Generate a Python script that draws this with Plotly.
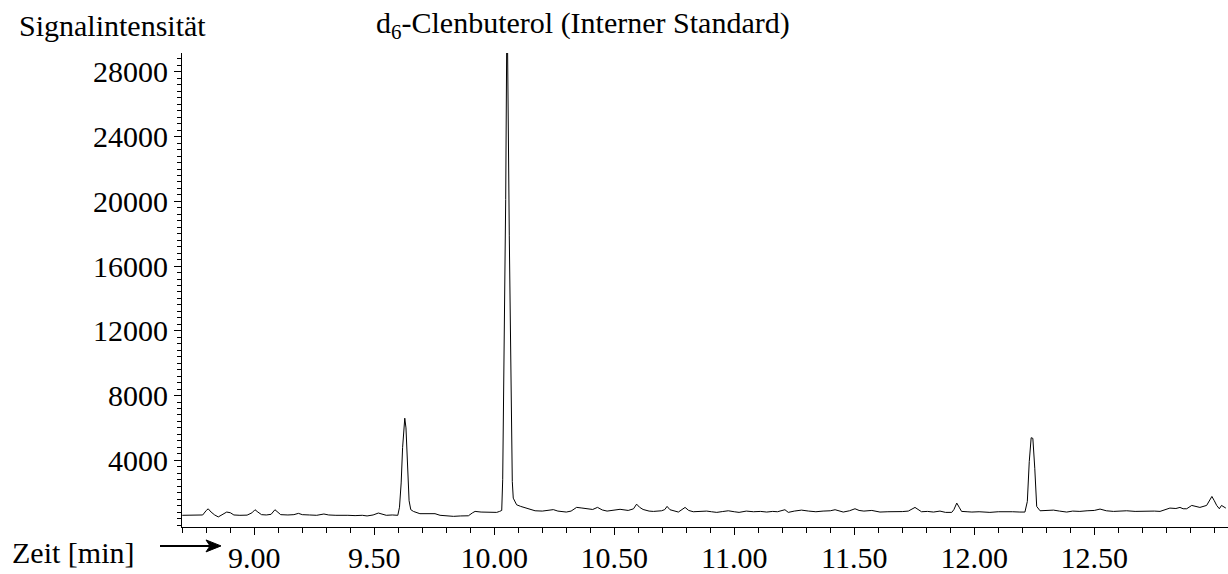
import plotly.graph_objects as go

# Retention time (min) and signal intensity
time_min = [
    8.700, 8.730, 8.760, 8.785, 8.800, 8.808, 8.820, 8.835, 8.850, 8.865,
    8.885, 8.900, 8.915, 8.940, 8.970, 8.990, 9.003, 9.015, 9.030, 9.050,
    9.070, 9.086, 9.100, 9.110, 9.140, 9.165, 9.184, 9.200, 9.230, 9.260,
    9.290, 9.310, 9.340, 9.370, 9.390, 9.420, 9.450, 9.470, 9.495, 9.517,
    9.535, 9.550, 9.575, 9.598, 9.605, 9.612, 9.618, 9.623, 9.627, 9.632,
    9.638, 9.645, 9.652, 9.663, 9.690, 9.720, 9.753, 9.774, 9.800, 9.830,
    9.860, 9.892, 9.910, 9.920, 9.945, 9.968, 9.990, 10.010, 10.022, 10.031,
    10.035, 10.0446, 10.0475, 10.0515, 10.0555, 10.0625, 10.075, 10.079, 10.093, 10.110,
    10.135, 10.150, 10.170, 10.200, 10.225, 10.246, 10.265, 10.300, 10.320, 10.343,
    10.365, 10.385, 10.410, 10.430, 10.450, 10.470, 10.500, 10.524, 10.558, 10.580,
    10.593, 10.605, 10.620, 10.645, 10.663, 10.697, 10.710, 10.720, 10.732, 10.750,
    10.767, 10.795, 10.810, 10.829, 10.855, 10.885, 10.905, 10.927, 10.950, 10.975,
    11.000, 11.020, 11.050, 11.080, 11.110, 11.135, 11.160, 11.180, 11.211, 11.225,
    11.250, 11.280, 11.310, 11.340, 11.370, 11.400, 11.420, 11.454, 11.480, 11.503,
    11.520, 11.540, 11.573, 11.607, 11.640, 11.677, 11.700, 11.725, 11.753, 11.780,
    11.805, 11.830, 11.857, 11.880, 11.906, 11.915, 11.927, 11.937, 11.947, 11.970,
    11.990, 12.020, 12.050, 12.065, 12.100, 12.130, 12.160, 12.190, 12.211, 12.221,
    12.229, 12.237, 12.244, 12.252, 12.260, 12.274, 12.300, 12.330, 12.355, 12.385,
    12.410, 12.440, 12.470, 12.500, 12.524, 12.550, 12.580, 12.610, 12.635, 12.670,
    12.700, 12.720, 12.750, 12.774, 12.795, 12.815, 12.840, 12.857, 12.870, 12.885,
    12.906, 12.925, 12.940, 12.968, 12.990, 13.000, 13.010, 13.021, 13.030, 13.048,
]
intensity = [
    600, 610, 590, 620, 900, 1000, 800, 620, 500, 640,
    800, 760, 620, 600, 610, 750, 945, 800, 640, 620,
    660, 945, 760, 640, 620, 640, 720, 640, 620, 600,
    680, 620, 600, 620, 600, 580, 600, 560, 620, 740,
    640, 600, 620, 600, 1100, 2600, 4800, 6300, 6600, 6000,
    3500, 1500, 950, 840, 700, 720, 700, 600, 560, 535,
    560, 570, 760, 840, 800, 780, 800, 780, 840, 900,
    2800, 14380, 20120, 29200, 29200, 17870, 2690, 1660, 1250, 1150,
    1050, 945, 880, 860, 900, 950, 860, 800, 860, 1090,
    1050, 1010, 960, 1090, 930, 860, 900, 970, 900, 1000,
    1290, 1100, 960, 860, 840, 880, 950, 1150, 944, 860,
    800, 1087, 900, 820, 840, 860, 820, 780, 830, 880,
    820, 780, 860, 820, 840, 800, 840, 820, 944, 780,
    860, 920, 860, 820, 860, 880, 944, 800, 880, 1005,
    900, 860, 900, 800, 820, 800, 830, 860, 1087, 820,
    840, 800, 860, 780, 780, 950, 1354, 1100, 841, 820,
    800, 820, 800, 780, 820, 841, 820, 800, 800, 1456,
    3918, 5395, 5354, 3508, 1148, 880, 880, 920, 860, 800,
    860, 841, 880, 900, 985, 880, 840, 860, 880, 841,
    860, 841, 860, 841, 960, 1046, 1020, 1087, 1005, 1005,
    1210, 1120, 1087, 1210, 1764, 1500, 1210, 1005, 1210, 1046,
]

x_tick_vals = [9.0, 9.5, 10.0, 10.5, 11.0, 11.5, 12.0, 12.5]
x_tick_text = ["9.00", "9.50", "10.00", "10.50", "11.00", "11.50", "12.00", "12.50"]
y_tick_vals = [4000, 8000, 12000, 16000, 20000, 24000, 28000]
y_tick_text = ["4000", "8000", "12000", "16000", "20000", "24000", "28000"]

W, H = 1228, 574
L, R, T, B = 182, 0, 53, 45
PW, PH = W - L - R, H - T - B

def px(x):
    return (x - L) / PW

def py(y):
    return (H - B - y) / PH

FONT = "Liberation Serif, Times New Roman, serif"

fig = go.Figure()
fig.add_trace(go.Scatter(
    x=time_min, y=intensity, mode="lines",
    line=dict(color="black", width=1),
    showlegend=False, hoverinfo="skip",
))

fig.update_layout(
    width=W, height=H,
    margin=dict(l=L, r=R, t=T, b=B, pad=0),
    paper_bgcolor="white", plot_bgcolor="white",
    font=dict(family=FONT, size=30, color="black"),
    xaxis=dict(
        range=[8.6988, 13.0571], showgrid=False, zeroline=False,
        showline=True, linecolor="black", linewidth=1,
        ticks="outside", ticklen=7, tickwidth=1, tickcolor="black",
        tickvals=x_tick_vals, ticktext=x_tick_text,
        tickfont=dict(family=FONT, size=30, color="black"),
        ticklabelstandoff=-3,
        minor=dict(dtick=0.1, tick0=9.0, ticks="outside", ticklen=5,
                   tickwidth=1, tickcolor="black", showgrid=False),
        fixedrange=True,
    ),
    yaxis=dict(
        range=[-123, 29169], showgrid=False, zeroline=False,
        showline=True, linecolor="black", linewidth=1,
        ticks="outside", ticklen=7, tickwidth=1, tickcolor="black",
        tickvals=y_tick_vals, ticktext=y_tick_text,
        tickfont=dict(family=FONT, size=30, color="black"),
        ticklabelstandoff=0,
        minor=dict(dtick=400, tick0=0, ticks="outside", ticklen=4,
                   tickwidth=1, tickcolor="black", showgrid=False),
        fixedrange=True,
    ),
)

fig.add_annotation(
    xref="paper", yref="paper", x=px(17), y=py(25),
    text="Signalintensität", showarrow=False,
    xanchor="left", yanchor="middle",
    font=dict(family=FONT, size=30, color="black"),
)
fig.add_annotation(
    xref="paper", yref="paper", x=px(374), y=py(25),
    text="d<sub>6</sub>-Clenbuterol (Interner Standard)", showarrow=False,
    xanchor="left", yanchor="middle",
    font=dict(family=FONT, size=30, color="black"),
)
fig.add_annotation(
    xref="paper", yref="paper", x=px(10), y=py(555),
    text="Zeit [min]", showarrow=False,
    xanchor="left", yanchor="middle",
    font=dict(family=FONT, size=30, color="black"),
)
# arrow
fig.add_shape(type="line", xref="paper", yref="paper",
              x0=px(160), y0=py(548), x1=px(214), y1=py(548),
              line=dict(color="black", width=2))
fig.add_shape(type="path", xref="paper", yref="paper",
              path=(f"M {px(206)} {py(542)} L {px(221)} {py(548)} "
                    f"L {px(206)} {py(554)} L {px(210)} {py(548)} Z"),
              fillcolor="black", line=dict(color="black", width=1))

fig.write_html("out.html", include_plotlyjs=True, config={"displayModeBar": False})
